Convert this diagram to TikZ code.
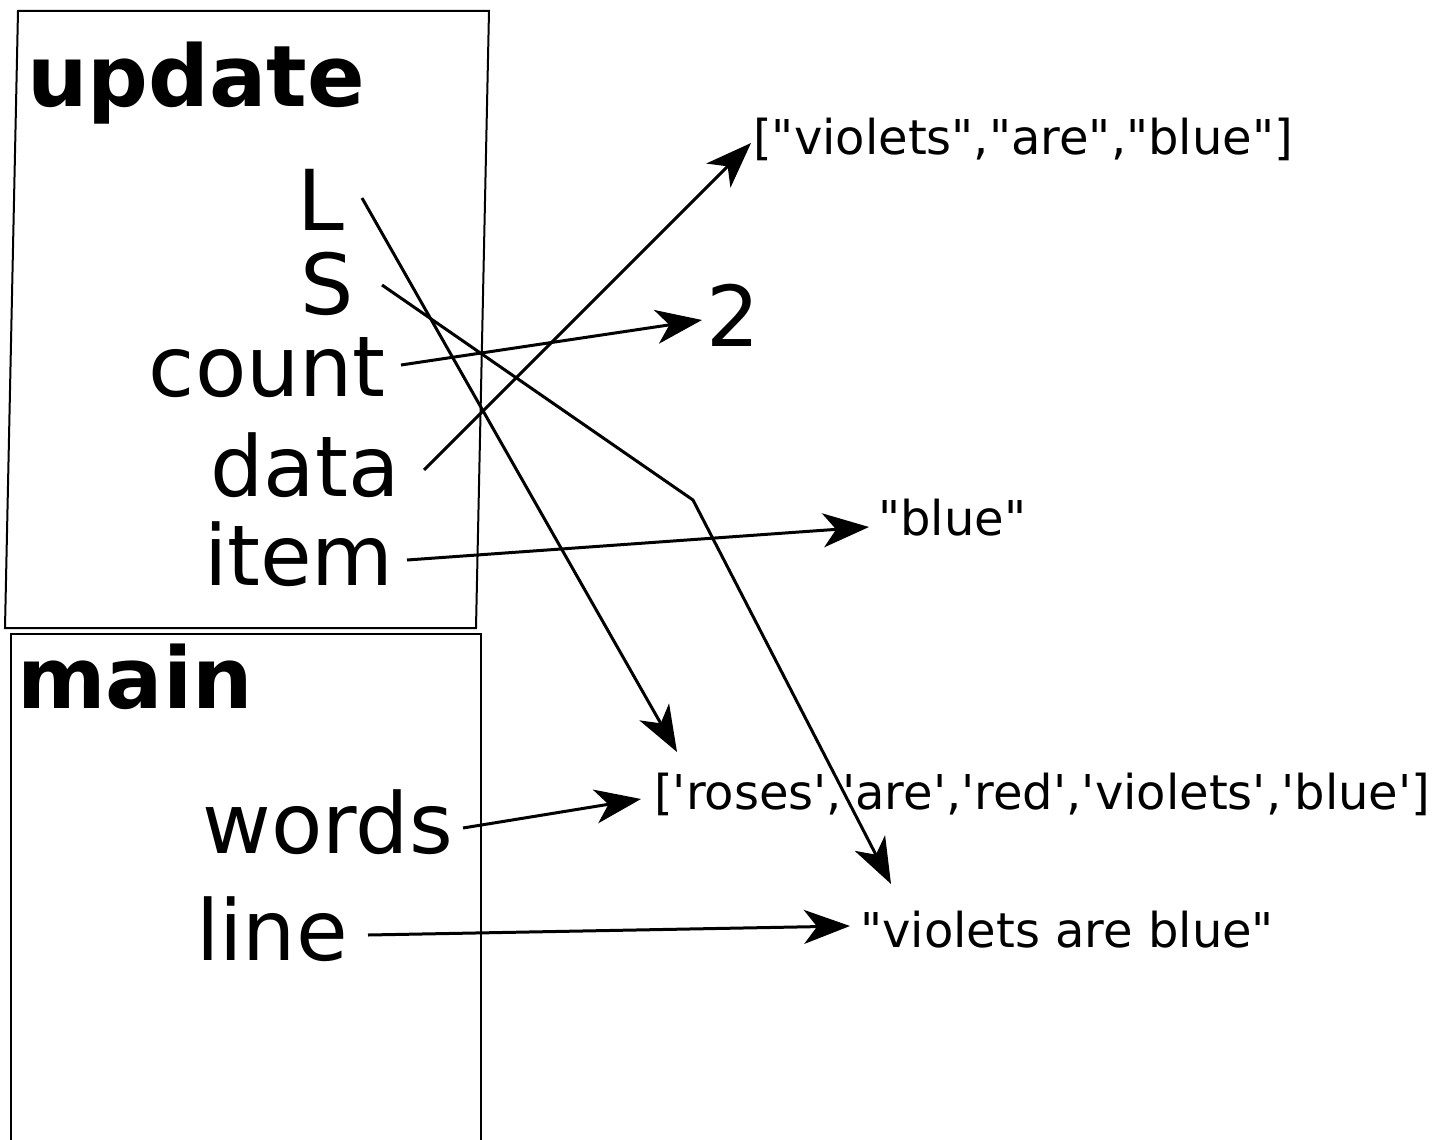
\documentclass[tikz,border=0pt]{standalone}
\usepackage{fontspec}
\setmainfont{DejaVu Sans}[Ligatures=TeXOff]
\usepackage{tikz}
\usetikzlibrary{arrows.meta}
\tikzstyle{frame} = [line width=2pt, draw=black]
\tikzstyle{frametitle} = [inner sep=0pt, anchor=base west, font=\fontsize{85pt}{85pt}\selectfont\bfseries]
\tikzstyle{varname} = [inner sep=0pt, anchor=base east, font=\fontsize{84pt}{84pt}\selectfont]
\tikzstyle{value} = [inner sep=0pt, anchor=base west, font=\fontsize{48pt}{48pt}\selectfont]
\tikzstyle{bigvalue} = [inner sep=0pt, anchor=base west, font=\fontsize{84pt}{84pt}\selectfont]
\tikzstyle{arrow} = [line width=3pt, -{Stealth[length=46pt,width=34pt,inset=13pt]}]

\begin{document}
\begin{tikzpicture}[x=1pt, y=-1pt]
\useasboundingbox (0,0) rectangle (1448,1140);

% frames
\draw [frame] (18,11) -- (489,11) -- (476,628) -- (5,628) -- cycle;
\draw [frame] (11,634) rectangle (481,1160);
\node (update) [frametitle] at (27,106) {update};
\node (main) [frametitle] at (17,708) {main};

% variables
\node (L) [varname] at (344,230) {L};
\node (S) [varname] at (354,314) {S};
\node (count) [varname] at (386,396) {count};
\node (data) [varname] at (400,496) {data};
\node (item) [varname] at (394,585) {item};
\node (words) [varname] at (453,853) {words};
\node (line) [varname] at (348,960) {line};

% values
\node (vablist) [value] at (753,154) {["violets","are","blue"]};
\node (two) [bigvalue] at (706,346) {2};
\node (blue) [value] at (878,535) {"blue"};
\node (roses) [value] at (654,809) {['roses','are','red','violets','blue']};
\node (vab) [value] at (860,947) {"violets are blue"};
\coordinate (bend) at (693,500);

\draw [arrow] ([shift={(18,-32)}]L.base east) -- ([shift={(23,-57)}]roses.base west);
\draw [arrow] ([shift={(28,-29)}]S.base east) -- (bend) -- ([shift={(31,-63)}]vab.base west);
\draw [arrow] ([shift={(15,-31)}]count.base east) -- ([shift={(-4,-26)}]two.base west);
\draw [arrow] ([shift={(24,-26)}]data.base east) -- ([shift={(-2,-11)}]vablist.base west);
\draw [arrow] ([shift={(13,-25)}]item.base east) -- ([shift={(-9,-8)}]blue.base west);
\draw [arrow] ([shift={(10,-25)}]words.base east) -- ([shift={(-13,-10)}]roses.base west);
\draw [arrow] ([shift={(20,-25)}]line.base east) -- ([shift={(-10,-21)}]vab.base west);

\end{tikzpicture}
\end{document}
